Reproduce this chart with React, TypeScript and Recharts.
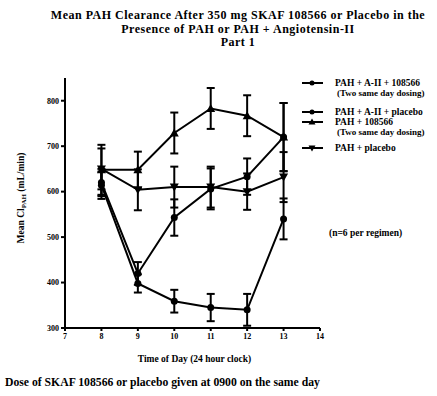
import React from 'react';
import { LineChart, Line, XAxis, YAxis, ErrorBar, Label } from 'recharts';

// time of day (24 h clock)
const hours = [8, 9, 10, 11, 12, 13];

// mean PAH clearance, mL/min, and error bar half-widths
const pahAiiDrug = [614, 398, 359, 345, 340, 540];
const pahAiiDrugErr = [30, 20, 25, 30, 35, 45];
const pahAiiPlacebo = [620, 420, 543, 606, 633, 720];
const pahAiiPlaceboErr = [30, 25, 40, 45, 40, 75];
const pahDrug = [648, 648, 729, 783, 767, 720];
const pahDrugErr = [55, 40, 45, 45, 45, 75];
const pahPlacebo = [650, 604, 610, 610, 600, 632];
const pahPlaceboErr = [45, 45, 45, 45, 40, 55];

const xTicks = [7, 8, 9, 10, 11, 12, 13, 14];
const yTicks = [300, 400, 500, 600, 700, 800];

const data = hours.map((h, i) => ({
  hour: h,
  a: pahAiiDrug[i],
  aErr: pahAiiDrugErr[i],
  b: pahAiiPlacebo[i],
  bErr: pahAiiPlaceboErr[i],
  c: pahDrug[i],
  cErr: pahDrugErr[i],
  d: pahPlacebo[i],
  dErr: pahPlaceboErr[i],
}));

const font = '"Liberation Serif", "DejaVu Serif", serif';

const circleDot = (props: any) => {
  const { cx, cy, key } = props;
  return <circle key={key} cx={cx} cy={cy} r={3.5} fill="#000" />;
};
const triUp = (props: any) => {
  const { cx, cy, key } = props;
  return <path key={key} d={`M${cx},${cy - 4.5}L${cx + 4.5},${cy + 3.5}L${cx - 4.5},${cy + 3.5}Z`} fill="#000" />;
};
const triDown = (props: any) => {
  const { cx, cy, key } = props;
  return <path key={key} d={`M${cx},${cy + 4.5}L${cx + 4.5},${cy - 3.5}L${cx - 4.5},${cy - 3.5}Z`} fill="#000" />;
};

const series = [
  { key: 'a', err: 'aErr', name: 'PAH + A-II + 108566', sub: '(Two same day dosing)', dot: circleDot },
  { key: 'b', err: 'bErr', name: 'PAH + A-II + placebo', sub: '', dot: circleDot },
  { key: 'c', err: 'cErr', name: 'PAH + 108566', sub: '(Two same day dosing)', dot: triUp },
  { key: 'd', err: 'dErr', name: 'PAH + placebo', sub: '', dot: triDown },
];

const legendRows = [83, 112, 122, 148];

function LegendBox() {
  return (
    <svg width={437} height={396} style={{ position: 'absolute', left: 0, top: 0, pointerEvents: 'none' }}>
      {series.map((s, i) => {
        const y = legendRows[i];
        const mark =
          s.dot === circleDot ? <circle cx={312} cy={y} r={2.5} fill="#000" /> : s.dot === triUp
            ? <path d={`M312,${y - 3.5}L315.5,${y + 2.5}L308.5,${y + 2.5}Z`} fill="#000" />
            : <path d={`M312,${y + 3.5}L315.5,${y - 2.5}L308.5,${y - 2.5}Z`} fill="#000" />;
        return (
          <g key={s.key}>
            <line x1={302} x2={323} y1={y} y2={y} stroke="#000" strokeWidth={2} />
            {mark}
            <text x={335} y={y + 3} fontSize={9.5} fontWeight="bold" fontFamily={font}>{s.name}</text>
            {s.sub && (
              <text x={337} y={y + 13} fontSize={9} fontWeight="bold" fontFamily={font}>{s.sub}</text>
            )}
          </g>
        );
      })}
      <text x={329} y={236} fontSize={9.5} fontWeight="bold" fontFamily={font}>(n=6 per regimen)</text>
    </svg>
  );
}

const YLabel = (props: any) => {
  const { viewBox } = props;
  const cx = 24;
  const cy = viewBox.y + viewBox.height / 2 - 5;
  return (
    <text
      x={cx}
      y={cy}
      transform={`rotate(-90 ${cx} ${cy})`}
      textAnchor="middle"
      fontSize={9.5}
      fontWeight="bold"
      fontFamily={font}
    >
      Mean Cl<tspan dy={2} fontSize={7}>PAH</tspan><tspan dy={-2}> (mL/min)</tspan>
    </text>
  );
};

const tickStyle = { fontSize: 8, fontWeight: 'bold' as const, fontFamily: font, fill: '#000' };

export default function App() {
  return (
    <div style={{ position: 'absolute', left: 0, top: 0, width: 437, height: 396, background: '#fff', fontFamily: font }}>
      <div style={{ position: 'absolute', left: 0, width: 476, top: 9, textAlign: 'center', fontSize: 12, letterSpacing: 0.5, fontWeight: 'bold', lineHeight: '13.5px', whiteSpace: 'nowrap' }}>
        Mean PAH Clearance After 350 mg SKAF 108566 or Placebo in the<br />
        Presence of PAH or PAH + Angiotensin-II<br />
        Part 1
      </div>
      <LineChart width={437} height={396} data={data} margin={{ top: 78, right: 117, bottom: 48, left: 40 }}>
        <XAxis
          dataKey="hour"
          type="number"
          domain={[7, 14]}
          ticks={xTicks}
          interval={0}
          height={20}
          stroke="#000"
          strokeWidth={2}
          tickSize={3}
          tick={tickStyle}
          allowDataOverflow
        >
          <Label value="Time of Day (24 hour clock)" position="insideBottom" offset={-14} dx={2}
            style={{ fontSize: 9.5, fontWeight: 'bold', fontFamily: font, fill: '#000' }} />
        </XAxis>
        <YAxis
          type="number"
          domain={[300, 850]}
          ticks={yTicks}
          interval={0}
          width={25}
          stroke="#000"
          strokeWidth={2}
          tickSize={4}
          tick={tickStyle}
          allowDataOverflow
        >
          <Label content={<YLabel />} />
        </YAxis>
        {series.map((s) => (
          <Line
            key={s.key}
            dataKey={s.key}
            name={s.name}
            type="linear"
            stroke="#000"
            strokeWidth={2}
            dot={s.dot}
            activeDot={false}
            isAnimationActive={false}
          >
            <ErrorBar dataKey={s.err} width={4} strokeWidth={2} stroke="#000" direction="y" isAnimationActive={false} />
          </Line>
        ))}
      </LineChart>
      <LegendBox />
      <div style={{ position: 'absolute', left: 5, top: 376, fontSize: 11.7, fontWeight: 'bold', whiteSpace: 'nowrap' }}>
        Dose of SKAF 108566 or placebo given at 0900 on the same day
      </div>
    </div>
  );
}
